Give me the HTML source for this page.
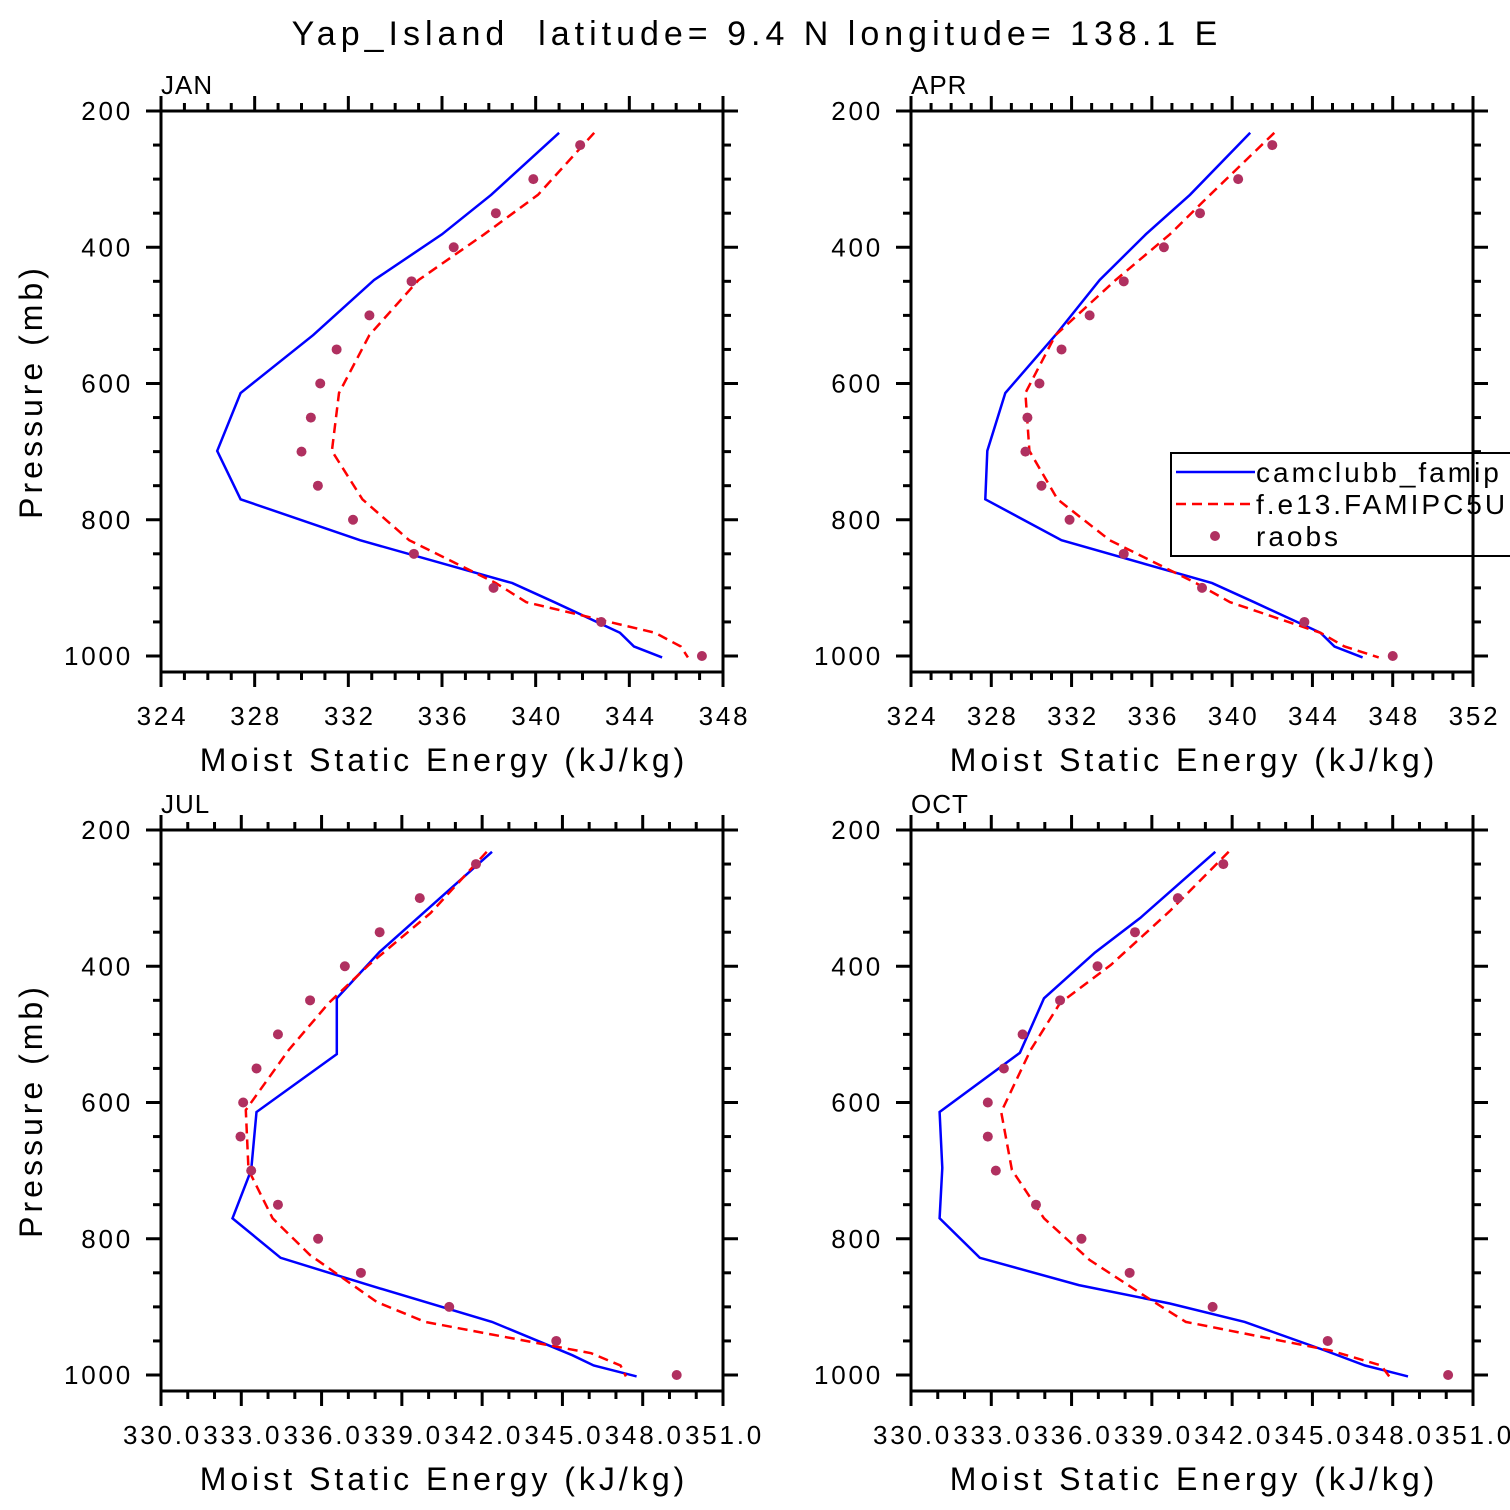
<!DOCTYPE html>
<html><head><meta charset="utf-8"><style>
html,body{margin:0;padding:0;background:#fff;}
svg{display:block;font-family:"Liberation Sans",sans-serif;}
</style></head><body>
<svg id="chart" width="1510" height="1510" viewBox="0 0 1510 1510" xmlns="http://www.w3.org/2000/svg">
<rect width="1510" height="1510" fill="#fff"/>
<text x="757" y="45" font-size="34" text-anchor="middle" fill="#000" letter-spacing="5" xml:space="preserve">Yap_Island  latitude= 9.4 N longitude= 138.1 E</text>
</svg>
<script>
const levels = [250,300,350,400,450,500,550,600,650,700,750,800,850,900,950,1000];
const janObs = [341.9,339.9,338.3,336.5,334.7,332.9,331.5,330.8,330.4,330.0,330.7,332.2,334.8,338.2,342.8,347.1];
const aprObs = [342.0,340.3,338.4,336.6,334.6,332.9,331.5,330.4,329.8,329.7,330.5,331.9,334.6,338.5,343.6,348.0];
const julObs = [341.8,339.7,338.2,336.9,335.6,334.4,333.6,333.1,333.0,333.4,334.4,335.9,337.5,340.8,344.8,349.3];
const octObs = [341.7,340.0,338.4,337.0,335.6,334.2,333.5,332.9,332.9,333.2,334.7,336.4,338.2,341.3,345.6,350.1];

const janModelP = [232,323,381,448,529,614,699,770,830,893,921,966,986,1002];
const janBlue = [341.0,338.1,336.0,333.1,330.5,327.4,326.4,327.4,332.5,339.0,340.8,343.6,344.2,345.4];
const janRed  = [342.5,340.1,337.8,335.0,332.9,331.6,331.3,332.6,334.6,338.3,339.6,345.1,346.2,346.5];

const aprBlue = [340.9,337.9,335.7,333.4,331.2,328.7,327.8,327.7,331.5,339.0,341.1,344.4,345.1,346.5];
const aprRed  = [342.1,338.9,336.9,334.2,331.2,329.7,329.9,331.3,333.9,338.2,339.9,344.4,345.6,347.3];

const julBlueP = [232,379,447,529,614,699,770,828,868,922,971,986,1002];
const julBlue  = [342.4,338.2,336.6,336.6,333.6,333.4,332.7,334.5,337.8,342.4,345.4,346.2,347.8];
const julRedP  = [232,322,398,454,523,611,699,770,824,893,922,968,986,1002];
const julRed   = [342.2,340.1,337.8,336.3,334.8,333.2,333.3,334.2,335.6,338.1,339.9,346.1,347.2,347.4];

const octBlueP = [232,329,380,447,527,614,696,770,828,868,895,922,964,986,1002];
const octBlue  = [341.4,338.6,336.9,335.0,334.1,331.1,331.2,331.1,332.6,336.3,339.7,342.5,345.5,347.0,348.6];
const octRedP  = [232,319,398,454,523,614,699,770,831,890,922,964,986,1002];
const octRed   = [341.9,339.7,337.5,335.6,334.5,333.4,333.8,335.0,336.7,339.0,340.3,345.7,347.6,347.9];

const yTicks = [200,400,600,800,1000];
const janXTicks = [324,328,332,336,340,344,348];
const aprXTicks = [324,328,332,336,340,344,348,352];
const julXTicks = [330.03,333.03,336.03,339.03,342.03,345.03,348.03,351.03];

const NS='http://www.w3.org/2000/svg';
const svg=document.getElementById('chart');
function el(tag,attrs,parent){const e=document.createElementNS(NS,tag);for(const k in attrs)e.setAttribute(k,attrs[k]);(parent||svg).appendChild(e);return e;}

function panel(cfg){
  const g=el('g',{});
  
  
  const L=cfg.x0,R=cfg.x0+562,T=cfg.y0,B=cfg.y0+561;
  const xs=v=>L+(v-cfg.xmin)/(cfg.xmax-cfg.xmin)*562;
  const ys=p=>T+(p-200)*0.68125;
  for(let v=cfg.xmin; v<=cfg.xmax+1e-6; v+=cfg.minor){
    const isMaj = Math.abs(((v-cfg.xmin)/cfg.major)-Math.round((v-cfg.xmin)/cfg.major))<1e-6;
    const len=isMaj?15:8, x=xs(v);
    el('line',{x1:x,x2:x,y1:B,y2:B+len,stroke:'#000','stroke-width':3},g);
    el('line',{x1:x,x2:x,y1:T,y2:T-len,stroke:'#000','stroke-width':3},g);
  }
  cfg.xticks.forEach(v=>{
    const t=el('text',{x:xs(v)+1.5,y:B+53,'font-size':26,'text-anchor':'middle','letter-spacing':'2.8'},g);
    
    
    t.textContent=cfg.fmt(v);
  });
  for(let p=200;p<=1000;p+=50){
    const isMaj=p%200===0,len=isMaj?15:8,y=ys(p);
    el('line',{x1:L,x2:L-len,y1:y,y2:y,stroke:'#000','stroke-width':3},g);
    el('line',{x1:R,x2:R+len,y1:y,y2:y,stroke:'#000','stroke-width':3},g);
  }
  yTicks.forEach(p=>{
    const t=el('text',{x:L-28,y:ys(p)+9,'font-size':26,'text-anchor':'end','letter-spacing':'2.8'},g);
    
    
    t.textContent=p;
  });
  const lab=el('text',{x:L,y:T-17,'font-size':26,'letter-spacing':'1'},g);
  
  
  lab.textContent=cfg.label;
  const xt=el('text',{x:(L+R)/2+2,y:B+99,'font-size':32,'text-anchor':'middle','letter-spacing':'4'},g);
  
  
  xt.textContent='Moist Static Energy (kJ/kg)';
  if(cfg.ytitle){
    const yt=el('text',{x:0,y:0,'font-size':32,'text-anchor':'middle','letter-spacing':'4',transform:`translate(42,${(T+B)/2}) rotate(-90)`},g);
    
    
    yt.textContent='Pressure (mb)';
  }
  const pts=(P,V)=>P.map((p,i)=>xs(V[i]).toFixed(1)+','+ys(p).toFixed(1)).join(' ');
  const b=el('polyline',{points:pts(cfg.blueP,cfg.blue),fill:'none',stroke:'#0000ff','stroke-width':2.5},g);
  
  
  const r=el('polyline',{points:pts(cfg.redP,cfg.red),fill:'none',stroke:'#ff0000','stroke-width':2.5,'stroke-dasharray':'10,6'},g);
  
  
  cfg.obs.forEach((v,i)=>{
    const c=el('circle',{cx:xs(v),cy:ys(levels[i]),r:5,fill:'#b03060'},g);
    
    
  });
  if(cfg.legend){
    const lg=el('g',{},g);
    
    
    el('rect',{x:1171,y:453,width:400,height:103,fill:'#fff',stroke:'#000','stroke-width':2},lg);
    el('line',{x1:1176,x2:1255,y1:472,y2:472,stroke:'#0000ff','stroke-width':2.5},lg);
    el('line',{x1:1176,x2:1255,y1:504,y2:504,stroke:'#ff0000','stroke-width':2.5,'stroke-dasharray':'10,6'},lg);
    el('circle',{cx:1215,cy:536,r:5,fill:'#b03060'},lg);
    [['camclubb_famip',482],['f.e13.FAMIPC5UN',514],['raobs',546]].forEach(([s,y])=>{
      const t=el('text',{x:1256,y:y,'font-size':28,'letter-spacing':'3'},lg);
      
      
      t.textContent=s;
    });
  }
  el('rect',{x:L,y:T,width:562,height:561,fill:'none',stroke:'#000','stroke-width':3},g);
}
const intFmt=v=>String(v), decFmt=v=>v.toFixed(1);
panel({name:'jan',label:'JAN',x0:161,y0:111,xmin:324,xmax:348,major:4,minor:1,xticks:janXTicks,fmt:intFmt,ytitle:true,
  blueP:janModelP,blue:janBlue,redP:janModelP,red:janRed,obs:janObs});
panel({name:'apr',label:'APR',x0:911,y0:111,xmin:324,xmax:352,major:4,minor:1,xticks:aprXTicks,fmt:intFmt,
  blueP:janModelP,blue:aprBlue,redP:janModelP,red:aprRed,obs:aprObs,legend:true});
panel({name:'jul',label:'JUL',x0:161,y0:830,xmin:330.03,xmax:351.03,major:3,minor:1,xticks:julXTicks,fmt:decFmt,ytitle:true,
  blueP:julBlueP,blue:julBlue,redP:julRedP,red:julRed,obs:julObs});
panel({name:'oct',label:'OCT',x0:911,y0:830,xmin:330.03,xmax:351.03,major:3,minor:1,xticks:julXTicks,fmt:decFmt,
  blueP:octBlueP,blue:octBlue,redP:octRedP,red:octRed,obs:octObs});
</script>
</body></html>
